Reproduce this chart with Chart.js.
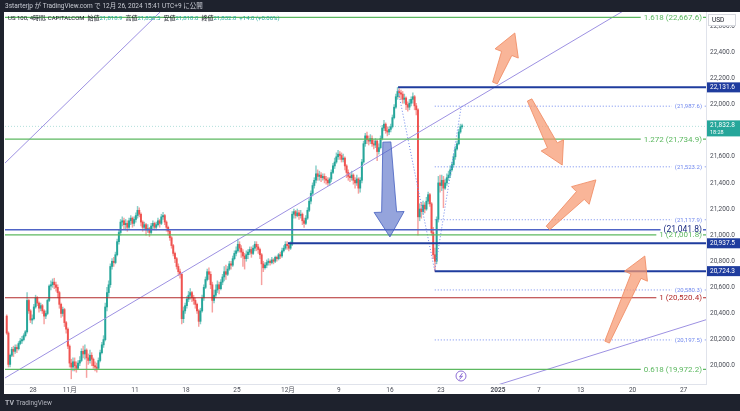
<!DOCTYPE html>
<html>
<head>
<meta charset="utf-8">
<title>US 100, 4時間</title>
<script src="https://cdn.jsdelivr.net/npm/chart.js@4.4.1/dist/chart.umd.min.js"></script>
<style>
	html, body { margin: 0; padding: 0; background: #fff; }
	#wrapper { width: 740px; height: 411px; }
</style>
</head>
<body>
<div id="wrapper"><canvas id="chart" width="740" height="411"></canvas></div>
<script>
/* DATA ---------------------------------------------- */

// 4h bars, 6 per trading day, x counted in trading days from Oct 28
const barsPerDay = 6;
const firstBar = -16;
const firstOpen = 20380;

const closes = [
	20250, 20010, 20080, 20125,                          // 10/23
	20110, 20140, 20130, 20170, 20190, 20200,            // 10/24
	20230, 20260, 20500, 20420, 20350, 20360,            // 10/25
	20450, 20520, 20480, 20440, 20460, 20420,            // 10/28
	20380, 20400, 20500, 20610, 20620, 20640,            // 10/29
	20620, 20600, 20560, 20470, 20400, 20430,            // 10/30
	20330, 20280, 20150, 20020, 19990, 20030,            // 10/31
	20000, 19980, 20020, 20040, 20110, 20090,            // 11/1
	20120, 20060, 20040, 20080, 20050, 20000,            // 11/4
	19990, 19980, 20040, 20100, 20160, 20200,            // 11/5
	20450, 20560, 20620, 20760, 20800, 20790,            // 11/6
	20850, 20950, 21020, 21100, 21110, 21080,            // 11/7
	21090, 21060, 21110, 21130, 21090, 21120,            // 11/8
	21150, 21190, 21160, 21100, 21060, 21080,            // 11/11
	21040, 21050, 21020, 21070, 21090, 21060,            // 11/12
	21080, 21110, 21090, 21140, 21150, 21100,            // 11/13
	21060, 21030, 20980, 20920, 20860, 20820,            // 11/14
	20760, 20720, 20700, 20360, 20420, 20460,            // 11/15
	20510, 20540, 20560, 20520, 20500, 20470,            // 11/18
	20420, 20340, 20420, 20520, 20600, 20660,            // 11/19
	20720, 20700, 20620, 20500, 20540, 20580,            // 11/20
	20620, 20590, 20640, 20680, 20720, 20700,            // 11/21
	20740, 20780, 20770, 20820, 20860, 20880,            // 11/22
	20930, 20900, 20870, 20840, 20820, 20850,            // 11/25
	20870, 20890, 20860, 20900, 20930, 20910,            // 11/26
	20890, 20850, 20780, 20750, 20770, 20790,            // 11/27
	20800, 20790, 20810, 20800, 20830, 20820,            // 11/28
	20850, 20840, 20880, 20900, 20930, 20920,            // 11/29
	20900, 20930, 21160, 21180, 21150, 21170,            // 12/2
	21150, 21160, 21110, 21090, 21130, 21190,            // 12/3
	21260, 21320, 21380, 21420, 21470, 21450,            // 12/4
	21460, 21440, 21450, 21430, 21420, 21400,            // 12/5
	21430, 21480, 21530, 21560, 21600, 21620,            // 12/6
	21610, 21580, 21590, 21530, 21480, 21450,            // 12/9
	21440, 21460, 21420, 21400, 21430, 21360,            // 12/10
	21420, 21560, 21700, 21760, 21730, 21720,            // 12/11
	21740, 21700, 21690, 21720, 21640, 21670,            // 12/12
	21740, 21820, 21850, 21800, 21790, 21810,            // 12/13
	21830, 21900, 21980, 22060, 22100, 22090,            // 12/16
	22080, 22040, 22050, 22000, 21980, 22010,            // 12/17
	22040, 22060, 21990, 21960, 21140, 21200,            // 12/18
	21180, 21230, 21200, 21260, 21310, 21240,            // 12/19
	21020, 20850, 20800, 21120, 21400, 21380,            // 12/20
	21420, 21360, 21400, 21440, 21460, 21500,            // 12/23
	21540, 21600, 21660, 21700, 21790, 21830,            // 12/24
	21832.8                                              // 12/26
];

const highs = [
	20390, 20260, 20090, 20140,
	20150, 20160, 20160, 20185, 20210, 20225,
	20245, 20270, 20560, 20510, 20430, 20390,
	20470, 20540, 20530, 20490, 20480, 20470,
	20430, 20420, 20510, 20620, 20650, 20665,
	20670, 20640, 20620, 20570, 20480, 20450,
	20440, 20340, 20290, 20160, 20050, 20060,
	20060, 20030, 20040, 20070, 20130, 20150,
	20160, 20130, 20090, 20120, 20100, 20060,
	20030, 20020, 20060, 20120, 20180, 20230,
	20480, 20600, 20650, 20780, 20820, 20830,
	20870, 20970, 21040, 21120, 21140, 21130,
	21120, 21110, 21130, 21150, 21140, 21140,
	21170, 21220, 21210, 21170, 21110, 21100,
	21090, 21080, 21060, 21090, 21110, 21100,
	21100, 21130, 21120, 21160, 21175, 21160,
	21110, 21070, 21040, 20990, 20930, 20870,
	20830, 20780, 20740, 20710, 20450, 20480,
	20530, 20570, 20590, 20570, 20540, 20520,
	20480, 20430, 20440, 20540, 20620, 20680,
	20740, 20750, 20720, 20640, 20580, 20620,
	20650, 20640, 20660, 20700, 20760, 20770,
	20760, 20800, 20800, 20840, 20880, 20910,
	20970, 20950, 20920, 20890, 20860, 20880,
	20890, 20910, 20910, 20920, 20950, 20950,
	20930, 20900, 20860, 20800, 20790, 20810,
	20820, 20810, 20830, 20820, 20840, 20840,
	20860, 20870, 20900, 20920, 20950, 20950,
	20940, 20950, 21180, 21200, 21190, 21200,
	21190, 21190, 21170, 21130, 21150, 21210,
	21280, 21340, 21400, 21440, 21530, 21500,
	21490, 21480, 21470, 21470, 21450, 21440,
	21440, 21500, 21550, 21590, 21630, 21650,
	21640, 21630, 21620, 21600, 21540, 21500,
	21470, 21490, 21470, 21440, 21460, 21440,
	21440, 21580, 21720, 21780, 21790, 21760,
	21770, 21760, 21730, 21740, 21730, 21700,
	21760, 21840, 21880, 21860, 21830, 21830,
	21850, 21920, 22000, 22080, 22131.6, 22120,
	22110, 22100, 22080, 22060, 22020, 22040,
	22060, 22090, 22070, 22010, 21970, 21240,
	21250, 21260, 21250, 21290, 21330, 21320,
	21250, 21060, 20900, 21140, 21450, 21460,
	21460, 21450, 21430, 21470, 21490, 21530,
	21560, 21620, 21680, 21720, 21810, 21850,
	21850.5
];

const lows = [
	20240, 19990, 19990, 20070,
	20070, 20095, 20100, 20120, 20160, 20170,
	20190, 20220, 20250, 20400, 20330, 20320,
	20350, 20440, 20460, 20410, 20420, 20400,
	20320, 20360, 20390, 20490, 20580, 20600,
	20590, 20570, 20520, 20440, 20370, 20380,
	20300, 20250, 20130, 19990, 19900, 19960,
	19960, 19950, 19970, 20000, 20030, 20060,
	20050, 19910, 20010, 20020, 20000, 19980,
	19960, 19950, 19970, 20030, 20090, 20140,
	20190, 20420, 20530, 20600, 20740, 20760,
	20780, 20840, 20930, 21000, 21070, 21050,
	21040, 21030, 21050, 21080, 21060, 21070,
	21100, 21130, 21140, 21070, 21030, 21040,
	21000, 21020, 20990, 21010, 21050, 21040,
	21040, 21070, 21060, 21080, 21120, 21080,
	21030, 21000, 20960, 20900, 20840, 20790,
	20740, 20690, 20670, 20320, 20330, 20400,
	20440, 20490, 20510, 20490, 20470, 20440,
	20400, 20300, 20320, 20410, 20500, 20590,
	20650, 20660, 20590, 20410, 20480, 20520,
	20560, 20550, 20580, 20620, 20650, 20660,
	20690, 20730, 20740, 20760, 20810, 20840,
	20870, 20870, 20830, 20760, 20740, 20800,
	20820, 20850, 20830, 20850, 20880, 20880,
	20860, 20820, 20620, 20720, 20740, 20750,
	20770, 20770, 20780, 20780, 20790, 20800,
	20810, 20820, 20830, 20870, 20890, 20890,
	20880, 20890, 20920, 21130, 21130, 21140,
	21120, 21130, 21080, 21060, 21080, 21120,
	21180, 21240, 21300, 21360, 21400, 21420,
	21420, 21410, 21420, 21400, 21390, 21380,
	21380, 21410, 21470, 21510, 21550, 21580,
	21580, 21560, 21560, 21500, 21440, 21420,
	21410, 21420, 21390, 21360, 21380, 21320,
	21330, 21400, 21550, 21680, 21700, 21690,
	21700, 21680, 21660, 21670, 21570, 21620,
	21660, 21730, 21800, 21780, 21760, 21770,
	21790, 21820, 21890, 21970, 22040, 22050,
	22040, 22010, 22010, 21960, 21950, 21960,
	21990, 22010, 21960, 21920, 21000, 21110,
	21130, 21160, 21170, 21190, 21240, 21220,
	21000, 20820, 20724.3, 20780, 21100, 21330,
	21340, 21210, 21350, 21380, 21420, 21440,
	21490, 21520, 21580, 21650, 21690, 21780,
	21818.0
];

const tickDays = [0, 3.6, 10, 15, 20, 25, 30, 35, 40, 45.6, 49.6, 53.7, 58.8, 63.8];
const tickLabels = ['28', '11月', '11', '18', '25', '12月', '9', '16', '23', '2025', '7', '13', '20', '27'];

// Fibonacci extension levels
const fibRatios = ['1.618', '1.272', '1', '0.618'];
const fibPrices = [22667.6, 21734.9, 21001.8, 19972.2];
const redRatio = '1';
const redPrice = 20520.4;
const blueLevel = 21041.8;

// thick levels with price box on the axis, and the day they start
const boxPrices = [22131.6, 20937.5, 20724.3];
const boxFromDays = [35.8, 25.0, 39.4];

// dotted projection levels
const targetPrices = [21987.6, 21523.2, 21117.9, 20580.3, 20197.5];
const targetFromDay = 39.4;

// trend lines [day, price] pairs
const trendLines = [
	[[-2.75, 19906], [66, 23093]],
	[[-2.75, 21552], [14, 22826]],
	[[45, 19839], [66, 20352]]
];

// A-B-C swing of the pattern
const swingDays = [35.8, 39.4, 42.0];
const swingPrices = [22110, 20724.3, 21987.6];

// arrows [tailDay, tailPrice, tipDay, tipPrice]
const blueArrow = [34.7, 21713, 35.0, 20986];
const orangeArrows = [
	[45.3, 22165, 47.25, 22548],
	[48.7, 22035, 51.9, 21537],
	[50.5, 21055, 55.2, 21423],
	[56.3, 20181, 60.0, 20840]
];

const lastPrice = 21832.8;
const xMin = -2.75;
const xMax = 66;

/* BUILD ---------------------------------------------- */

const upColor = '#26a69a';
const downColor = '#ef5350';
const fibColor = '#5cb860';
const redColor = '#b22a2a';
const navy = '#1f3c9e';
const dotBlue = '#7088ee';
const purple = '#9d91e2';
const font = 'Roboto, "Noto Sans CJK JP", sans-serif';

const xs = closes.map((c, i) => (firstBar + i + 0.5) / barsPerDay);
const opens = closes.map((c, i) => i === 0 ? firstOpen : closes[i - 1]);
const isUp = closes.map((c, i) => c >= opens[i]);

function hLine(price, from, color, width, dash) {
	return {
		type: 'line',
		data: [{x: from, y: price}, {x: xMax, y: price}],
		borderColor: color,
		borderWidth: width,
		borderDash: dash || [],
		pointRadius: 0,
		order: -1
	};
}

const datasets = [];

datasets.push({
	type: 'bar',
	data: xs.map((x, i) => ({x: x, y: [lows[i], highs[i]]})),
	backgroundColor: isUp.map(u => u ? 'rgba(38,166,154,0.55)' : 'rgba(239,83,80,0.55)'),
	barThickness: 0.8,
	grouped: false,
	order: 2
});

datasets.push({
	type: 'bar',
	data: xs.map((x, i) => ({x: x, y: [opens[i], closes[i]]})),
	backgroundColor: isUp.map(u => u ? upColor : downColor),
	barThickness: 1.3,
	minBarLength: 1,
	grouped: false,
	order: 1
});

fibPrices.forEach(p => datasets.push(hLine(p, xMin, fibColor, 1.2)));
datasets.push(hLine(redPrice, xMin, redColor, 1.2));
datasets.push(hLine(blueLevel, xMin, '#4f64c6', 1.5));
boxPrices.forEach((p, i) => datasets.push(hLine(p, boxFromDays[i], navy, 2)));
targetPrices.forEach(p => datasets.push(hLine(p, targetFromDay, dotBlue, 1, [1, 2])));

trendLines.forEach(t => datasets.push({
	type: 'line',
	data: t.map(pt => ({x: pt[0], y: pt[1]})),
	borderColor: purple,
	borderWidth: 1,
	pointRadius: 0,
	order: -1
}));

datasets.push({
	type: 'line',
	data: swingDays.map((d, i) => ({x: d, y: swingPrices[i]})),
	borderColor: dotBlue,
	borderWidth: 1,
	borderDash: [1, 2],
	pointRadius: 0,
	order: -1
});

datasets.push(hLine(lastPrice, xMin, 'rgba(38,166,154,0.35)', 1, [1, 2]));

/* DRAWING HELPERS ---------------------------------------------- */

function fatArrow(ctx, x1, y1, x2, y2, tailW, neckW, headW, headL) {
	const len = Math.hypot(x2 - x1, y2 - y1);
	const ux = (x2 - x1) / len, uy = (y2 - y1) / len;
	const nx = -uy, ny = ux;
	const bx = x2 - ux * headL, by = y2 - uy * headL;
	ctx.beginPath();
	ctx.moveTo(x1 + nx * tailW / 2, y1 + ny * tailW / 2);
	ctx.lineTo(bx + nx * neckW / 2, by + ny * neckW / 2);
	ctx.lineTo(bx + nx * headW / 2, by + ny * headW / 2);
	ctx.lineTo(x2, y2);
	ctx.lineTo(bx - nx * headW / 2, by - ny * headW / 2);
	ctx.lineTo(bx - nx * neckW / 2, by - ny * neckW / 2);
	ctx.lineTo(x1 - nx * tailW / 2, y1 - ny * tailW / 2);
	ctx.closePath();
	ctx.fill();
	ctx.stroke();
}

// white gap in the line behind the label, then the text itself
function labelGap(ctx, text, y, size, weight) {
	ctx.font = (weight || '') + ' ' + size + 'px ' + font;
	const w = ctx.measureText(text).width;
	ctx.fillStyle = '#fff';
	ctx.fillRect(702 - w - 3, y - 2, w + 4, 4);
}

function labelText(ctx, text, y, color, size, weight) {
	ctx.font = (weight || '') + ' ' + size + 'px ' + font;
	ctx.fillStyle = color;
	ctx.textAlign = 'right';
	ctx.textBaseline = 'middle';
	ctx.fillText(text, 702, y + 0.5);
}

function axisBox(ctx, text, y, color) {
	ctx.fillStyle = color;
	ctx.fillRect(707, y - 5, 33, 10);
	ctx.fillStyle = '#fff';
	ctx.font = '6.5px ' + font;
	ctx.textAlign = 'left';
	ctx.textBaseline = 'middle';
	ctx.fillText(text, 710, y + 0.5);
}

function fmt(v) {
	return v.toLocaleString('en-US', {minimumFractionDigits: 1, maximumFractionDigits: 1});
}

const overlayPlugin = {
	id: 'overlay',
	beforeDraw(chart) {
		const ctx = chart.ctx;
		ctx.save();
		ctx.fillStyle = '#fff';
		ctx.fillRect(0, 0, 740, 411);
		ctx.restore();
	},
	afterDatasetsDraw(chart) {
		const ctx = chart.ctx;
		const x = chart.scales.x, y = chart.scales.y;
		const area = chart.chartArea;
		ctx.save();
		ctx.beginPath();
		ctx.rect(area.left, area.top, area.right - area.left, area.bottom - area.top);
		ctx.clip();

		ctx.lineWidth = 1;
		ctx.fillStyle = 'rgba(78,104,196,0.6)';
		ctx.strokeStyle = 'rgba(60,88,190,0.75)';
		fatArrow(ctx, x.getPixelForValue(blueArrow[0]), y.getPixelForValue(blueArrow[1]),
			x.getPixelForValue(blueArrow[2]), y.getPixelForValue(blueArrow[3]), 8, 15, 30, 25);

		ctx.fillStyle = 'rgba(246,152,112,0.72)';
		ctx.strokeStyle = 'rgba(240,140,100,0.85)';
		orangeArrows.forEach(a => {
			fatArrow(ctx, x.getPixelForValue(a[0]), y.getPixelForValue(a[1]),
				x.getPixelForValue(a[2]), y.getPixelForValue(a[3]), 5, 11, 25, 22);
		});

		const labels = [];
		fibRatios.forEach((r, i) => labels.push([r + ' (' + fmt(fibPrices[i]) + ')', fibPrices[i], fibColor, 8]));
		labels.push([redRatio + ' (' + fmt(redPrice) + ')', redPrice, redColor, 8]);
		labels.push(['(' + fmt(blueLevel) + ')', blueLevel, '#1a2a80', 8.5]);
		targetPrices.forEach(p => labels.push(['(' + fmt(p) + ')', p, dotBlue, 6]));

		labels.forEach(l => labelGap(ctx, l[0], y.getPixelForValue(l[1]), l[3]));
		labels.forEach(l => labelText(ctx, l[0], y.getPixelForValue(l[1]), l[2], l[3]));

		// event marker
		ctx.beginPath();
		ctx.arc(461, 376, 5, 0, Math.PI * 2);
		ctx.fillStyle = '#fff';
		ctx.fill();
		ctx.strokeStyle = '#8e6fd6';
		ctx.lineWidth = 1;
		ctx.stroke();
		ctx.beginPath();
		ctx.moveTo(462.5, 373);
		ctx.lineTo(459.5, 377);
		ctx.lineTo(462.5, 376);
		ctx.lineTo(459.5, 379.5);
		ctx.stroke();
		ctx.restore();
	},
	afterDraw(chart) {
		const ctx = chart.ctx;
		const y = chart.scales.y;
		ctx.save();

		boxPrices.forEach(p => axisBox(ctx, fmt(p), y.getPixelForValue(p), navy));

		const ly = y.getPixelForValue(lastPrice);
		ctx.fillStyle = upColor;
		ctx.fillRect(707, ly - 6, 33, 16);
		ctx.fillStyle = '#fff';
		ctx.font = '6.5px ' + font;
		ctx.textAlign = 'left';
		ctx.textBaseline = 'middle';
		ctx.fillText(fmt(lastPrice), 710, ly - 1);
		ctx.font = '5.5px ' + font;
		ctx.fillText('18:28', 710, ly + 6);

		// USD box
		ctx.fillStyle = '#fff';
		ctx.fillRect(708, 14, 28, 12);
		ctx.strokeStyle = '#d6d8de';
		ctx.strokeRect(708.5, 14.5, 27, 11);
		ctx.fillStyle = '#131722';
		ctx.font = '6.5px ' + font;
		ctx.fillText('USD', 712, 20.5);

		// dark frame
		ctx.fillStyle = '#1e222d';
		ctx.fillRect(0, 0, 740, 12);
		ctx.fillRect(0, 394, 740, 17);
		ctx.fillRect(0, 0, 4, 411);

		ctx.fillStyle = '#c9ccd4';
		ctx.font = '6.5px ' + font;
		ctx.fillText('3starterjp が TradingView.com で 12月 26, 2024 15:41 UTC+9 に公開', 5, 6.5);

		ctx.fillStyle = '#b2b5be';
		ctx.font = 'bold 7px ' + font;
		ctx.fillText('TV', 5, 403);
		ctx.font = '6.5px ' + font;
		ctx.fillText('TradingView', 16, 403);

		// legend line
		const parts = [
			['US 100, 4時間, CAPITALCOM  ', '#131722'],
			['始値', '#131722'], ['21,818.9  ', upColor],
			['高値', '#131722'], ['21,850.5  ', upColor],
			['安値', '#131722'], ['21,818.0  ', upColor],
			['終値', '#131722'], ['21,832.8  +14.0 (+0.06%)', upColor]
		];
		let tx = 8;
		ctx.font = '6px ' + font;
		parts.forEach(p => {
			ctx.fillStyle = p[1];
			ctx.fillText(p[0], tx, 18.5);
			tx += ctx.measureText(p[0]).width;
		});
		ctx.restore();
	}
};

/* CHART ---------------------------------------------- */

const chart = new Chart(document.getElementById('chart'), {
	type: 'bar',
	data: {datasets: datasets},
	options: {
		responsive: false,
		animation: false,
		devicePixelRatio: 1,
		layout: {padding: {left: 5, top: 12, bottom: 17, right: 0}},
		plugins: {legend: {display: false}, tooltip: {enabled: false}},
		scales: {
			x: {
				type: 'linear',
				min: xMin,
				max: xMax,
				offset: false,
				afterBuildTicks: s => { s.ticks = tickDays.map(v => ({value: v})); },
				afterFit: s => { s.height = 10; },
				ticks: {
					autoSkip: false,
					maxRotation: 0,
					padding: 2,
					color: '#4a4d57',
					font: c => ({size: 6.5, family: font, weight: tickLabels[c.index] === '2025' ? 'bold' : 'normal'}),
					callback: (v, i) => tickLabels[i]
				},
				grid: {display: false, drawTicks: false},
				border: {display: true, color: '#e0e3eb'}
			},
			y: {
				type: 'linear',
				position: 'right',
				min: 19860,
				max: 22708.8,
				afterBuildTicks: s => {
					s.ticks = s.ticks.filter(t => Math.abs(t.value % 200) < 0.01);
				},
				afterFit: s => { s.width = 34; },
				ticks: {
					stepSize: 200,
					padding: 4,
					color: '#4a4d57',
					font: {size: 6.5, family: font},
					callback: v => fmt(v)
				},
				grid: {display: false, drawTicks: false},
				border: {display: true, color: '#e0e3eb'}
			}
		}
	},
	plugins: [overlayPlugin]
});
</script>
</body>
</html>
